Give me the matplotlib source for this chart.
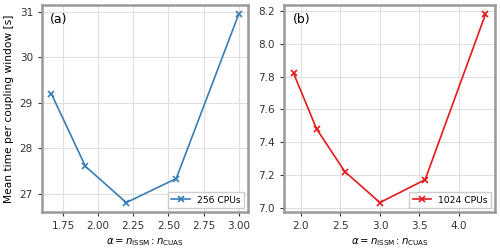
import matplotlib
matplotlib.use('Agg')
import matplotlib.pyplot as plt

# Daten
alpha_256 = [5/3, 21/11, 2.2, 23/9, 3.0]
time_256 = [29.2, 27.6, 26.8, 27.33, 30.95]

alpha_1024 = [21/11, 2.2, 23/9, 3.0, 25/7, 13/3]
time_1024 = [7.82, 7.48, 7.22, 7.03, 7.17, 8.18]

panels = ['(a)', '(b)']
labels = ['256 CPUs', '1024 CPUs']
colors = ['#377eb8', '#e41a1c']

plt.rcParams['font.size'] = 8
fig = plt.figure(figsize=(5, 2.52), dpi=100)
ax1 = fig.add_axes([42/500, 40/252, 206/500, 207/252])
ax2 = fig.add_axes([284/500, 40/252, 211/500, 207/252])

for ax, x, y, lab, c, p in zip([ax1, ax2], [alpha_256, alpha_1024], [time_256, time_1024],
                               labels, colors, panels):
    ax.plot(x, y, marker='x', color=c, label=lab, lw=1.2, ms=5, mew=1.2)
    ax.grid(True, color='#e0e0e0', lw=0.8)
    ax.set_axisbelow(True)
    for s in ax.spines.values():
        s.set_color('#999999')
        s.set_linewidth(1.8)
    ax.tick_params(colors='#333333', width=0.8, length=3, labelsize=7.5)
    ax.set_xlabel(r'$\alpha = n_{\mathrm{ISSM}} : n_{\mathrm{CUAS}}$', fontsize=7.3)
    ax.text(0.04, 0.96, p, transform=ax.transAxes, va='top', ha='left', fontsize=9)
    ax.legend(loc='lower right', fontsize=6.6, framealpha=1, edgecolor='#cccccc',
              fancybox=False, borderaxespad=0.4)

ax1.set_ylabel('Mean time per coupling window [s]', fontsize=7.7)
ax1.set_yticks([27, 28, 29, 30, 31])
ax2.set_yticks([7.0, 7.2, 7.4, 7.6, 7.8, 8.0, 8.2])

plt.savefig('out.png', dpi=100)
